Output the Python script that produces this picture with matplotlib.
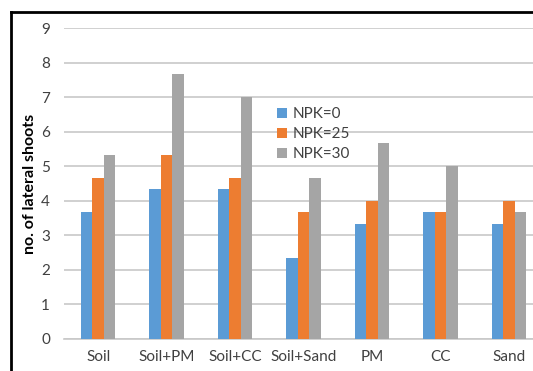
import numpy as np
import matplotlib.pyplot as plt
from matplotlib.lines import Line2D

# substrate treatments and mean lateral shoot counts per NPK level
treatments = ['Soil', 'Soil+PM', 'Soil+CC', 'Soil+Sand', 'PM', 'CC', 'Sand']
npk_0 = [3.67, 4.33, 4.33, 2.33, 3.33, 3.67, 3.33]
npk_25 = [4.67, 5.33, 4.67, 3.67, 4.0, 3.67, 4.0]
npk_30 = [5.33, 7.67, 7.0, 4.67, 5.67, 5.0, 3.67]
series_labels = ['NPK=0', 'NPK=25', 'NPK=30']
y_ticks = list(range(0, 10))

plt.rcParams['font.family'] = ['Lato', 'DejaVu Sans']

fig = plt.figure(figsize=(5.33, 3.71), dpi=100)
ax = fig.add_axes([0.120, 0.0863, 0.899, 0.8382])

x = np.arange(len(treatments))
w = 0.168
colors = ['#5B9BD5', '#ED7D31', '#A5A5A5']
for i, (vals, lab) in enumerate(zip([npk_0, npk_25, npk_30], series_labels)):
    ax.bar(x + (i - 1) * w, vals, w, color=colors[i], label=lab, zorder=3)

ax.set_xlim(-0.5, len(treatments) - 0.5)
ax.set_ylim(0, 9)
ax.set_yticks(y_ticks)
ax.set_xticks(x)
ax.set_xticklabels(treatments)
ax.tick_params(axis='both', length=0, labelsize=11, labelcolor='#404040')
ax.tick_params(axis='x', pad=8)
ax.tick_params(axis='y', pad=10)
ax.yaxis.grid(True, color='#C8C8C8', linewidth=1.2, zorder=0)
for s in ['left', 'right', 'top']:
    ax.spines[s].set_visible(False)
ax.spines['bottom'].set_color('#C8C8C8')
ax.spines['bottom'].set_linewidth(1.2)
ax.set_ylabel('no. of lateral shoots', fontsize=11.5, fontweight='bold', labelpad=3)

ax.legend(loc='upper left', bbox_to_anchor=(0.494, 0.748), bbox_transform=fig.transFigure,
          frameon=False, fontsize=11, handlelength=0.65, handleheight=0.65,
          handletextpad=0.4, labelspacing=0.4, labelcolor='#404040')

# outer border (only left and top edges fall inside the image)
fig.add_artist(Line2D([11 / 533, 11 / 533], [0, 1 - 12 / 371], transform=fig.transFigure,
                      color='black', linewidth=2))
fig.add_artist(Line2D([11 / 533, 1], [1 - 12 / 371, 1 - 12 / 371], transform=fig.transFigure,
                      color='black', linewidth=2))

fig.savefig('out.png', dpi=100)
